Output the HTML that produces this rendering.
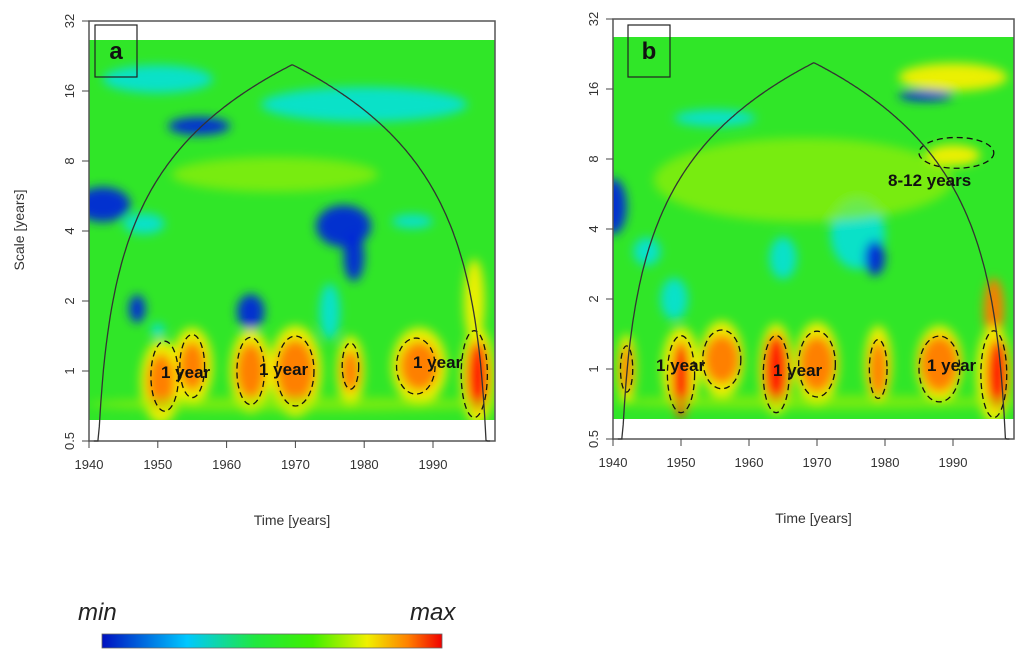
<!DOCTYPE html>
<html><head><meta charset="utf-8"><style>
body{margin:0;background:#fff;width:1024px;height:655px;overflow:hidden}
svg{display:block}
.tk{font-family:"Liberation Sans",sans-serif;font-size:13px;fill:#333}
.lab{font-family:"Liberation Sans",sans-serif;font-size:14px;fill:#333}
.ann{font-family:"Liberation Sans",sans-serif;font-weight:bold;font-size:17px;fill:#111}
</style></head><body>
<svg id="svg" width="1024" height="655" xmlns="http://www.w3.org/2000/svg">
<defs>
<filter id="blur" x="-5%" y="-5%" width="110%" height="110%"><feGaussianBlur stdDeviation="5"/></filter>
<clipPath id="clipA"><rect x="89" y="40" width="406" height="380"/></clipPath>
<clipPath id="clipB"><rect x="613" y="37" width="401" height="382"/></clipPath>
<linearGradient id="jet" x1="0" x2="1">
<stop offset="0" stop-color="#0010c0"/><stop offset="0.25" stop-color="#00c8ff"/><stop offset="0.45" stop-color="#20e840"/><stop offset="0.62" stop-color="#40f000"/><stop offset="0.78" stop-color="#f0f000"/><stop offset="0.9" stop-color="#ff8000"/><stop offset="1" stop-color="#f00000"/>
</linearGradient>
</defs>
</svg>
<script>
// Panel a blobs: year, scale, level(0 blue,1 cyan,2 yellow-green,3 yellow,4 orange,5 red), half-width (years), half-height (octaves)
const aYears  =[1942,1956,1950,1980,1977,1978.5,1987,1948,1947,1963.5,1950,1975,1967,1996,1950.5,1955,1963.5,1970,1978,1988,1996.5,1950.5,1955,1963.5,1970,1978,1988,1996.5,1970];
const aScales =[5.2,11.3,18,14,4.2,3.1,4.4,4.3,1.85,1.8,1.5,1.8,7,2,0.9,1.05,1.0,1.0,1.0,1.05,0.95,0.9,1.05,1.0,1.0,1.0,1.05,0.95,0.72];
const aLevels =[0,0,1,1,0,0,1,1,0,0,1,1,2,3,3,3,3,3,3,3,3,4,4,4,4,4,4,5,2];
const aWid    =[4,4.5,8,15,4,1.5,3,3,1.2,2,1,1.5,15,1.5,3,3,3,3.8,2,4,2.5,2,1.9,2.1,2.8,1.3,2.8,1.6,30];
const aHgt    =[0.25,0.13,0.2,0.25,0.3,0.35,0.1,0.15,0.2,0.25,0.1,0.4,0.25,0.6,0.6,0.55,0.6,0.65,0.5,0.55,0.7,0.4,0.35,0.4,0.45,0.3,0.35,0.5,0.1];
// Panel b blobs
const bYears  =[1940,1955,1986,1976,1978.5,1949,1945,1965,1968,1990,1996,1942,1950,1956,1964,1970,1979,1988,1996,1942,1950,1956,1964,1970,1979,1988,1996.5,1970,1990];
const bScales =[5,12,15,3.8,3,2,3.2,3,6.5,18,1.8,1.0,1.0,1.1,1.0,1.05,1.05,1.05,0.95,1.0,0.9,1.1,1.0,1.05,1.0,1.05,0.95,0.72,8.3];
const bLevels =[0,1,0,1,0,1,1,1,2,3,4,3,3,3,3,3,3,3,3,4,5,4,5,4,4,4,5,2,3];
const bWid    =[2,6,4,4,1.5,2,2,2,22,8,1.5,1.4,2.8,3.2,2.5,3.2,2,3.4,2.6,0.9,1.3,2.6,1.8,2.6,1.3,2.8,1.6,30,4];
const bHgt    =[0.4,0.12,0.08,0.5,0.25,0.3,0.2,0.3,0.6,0.2,0.45,0.5,0.6,0.55,0.65,0.6,0.55,0.55,0.7,0.35,0.55,0.35,0.5,0.4,0.4,0.4,0.5,0.1,0.15];
// Significance contours: year, scale, half-width (years), half-height (octaves)
const aCYears=[1951,1955,1963.5,1970,1978,1987.5,1996];
const aCScales=[0.95,1.05,1.0,1.0,1.05,1.05,0.97];
const aCW=[2.0,1.8,2.0,2.7,1.2,2.8,1.9];
const aCH=[0.5,0.45,0.48,0.5,0.33,0.4,0.62];
const bCYears=[1942,1950,1956,1964,1970,1979,1988,1996,1990.5];
const bCScales=[1.0,0.95,1.1,0.95,1.05,1.0,1.0,0.95,8.5];
const bCW=[0.9,2.0,2.8,1.9,2.7,1.3,3.0,1.9,5.5];
const bCH=[0.33,0.55,0.42,0.55,0.47,0.42,0.47,0.62,0.22];
const xTicks=[1940,1950,1960,1970,1980,1990];
const yTicks=[0.5,1,2,4,8,16,32];
const colors=['#0028d8','#00e0f0','#a8f000','#f4f000','#ff7a00','#ff1800'];
const opac=[0.95,0.8,0.6,0.95,0.95,0.95];

const svg=document.getElementById('svg');
const NS='http://www.w3.org/2000/svg';
function mk(tag,attrs,parent){const e=document.createElementNS(NS,tag);for(const k in attrs)e.setAttribute(k,attrs[k]);(parent||svg).appendChild(e);return e;}

function panel(P){
  const X=t=>P.x0+(t-1940)*P.ppy;
  const Y=s=>P.y1-(Math.log2(s)+1)*70;
  const g=mk('g',{'clip-path':'url(#'+P.clip+')'});
  
  
  mk('rect',{x:P.x0,y:P.hTop,width:P.x1-P.x0,height:P.hBot-P.hTop,fill:'#30e628'},g);
  const bg=mk('g',{filter:'url(#blur)'},g);
  for(let i=0;i<P.years.length;i++){
    const e=mk('ellipse',{cx:X(P.years[i]),cy:Y(P.scales[i]),rx:P.wid[i]*P.ppy,ry:P.hgt[i]*70,fill:colors[P.levels[i]],opacity:opac[P.levels[i]]},bg);
    
    
  }
  const box=mk('rect',{x:P.x0,y:P.y1-6*70,width:P.x1-P.x0,height:6*70,fill:'none',stroke:'#555','stroke-width':1.5});
  
  
  for(let i=0;i<P.cy.length;i++){
    const c=mk('ellipse',{cx:X(P.cy[i]),cy:Y(P.cs[i]),rx:P.cw[i]*P.ppy,ry:P.ch[i]*70,fill:'none',stroke:'#111','stroke-width':1.3,'stroke-dasharray':'6 4'});
    
    
  }
  let d='';
  for(let t=1940.7;t<=1998.4;t+=0.2){
    const s=Math.max(0.5,Math.min(t-1940.7,1998.4-t)*0.72);
    d+=(d?'L':'M')+X(t).toFixed(1)+','+Math.max(Y(s),Y(21)).toFixed(1);
  }
  const coi=mk('path',{d:d,fill:'none',stroke:'#333','stroke-width':1.3});
  
  
  xTicks.forEach(t=>{
    mk('line',{x1:X(t),x2:X(t),y1:P.y1,y2:P.y1+7,stroke:'#444'});
    const tx=mk('text',{x:X(t),y:P.y1+28,'text-anchor':'middle',class:'tk'});tx.textContent=t;
    
    
  });
  yTicks.forEach(s=>{
    mk('line',{x1:P.x0-7,x2:P.x0,y1:Y(s),y2:Y(s),stroke:'#444'});
    const tx=mk('text',{x:0,y:0,'text-anchor':'middle',class:'tk',transform:`translate(${P.x0-15},${Y(s)}) rotate(-90)`});tx.textContent=s;
    
    
  });
  const xt=mk('text',{x:(P.x0+P.x1)/2,y:P.y1+84,'text-anchor':'middle',class:'lab'});xt.textContent='Time [years]';
  
  
  const lb=mk('rect',{x:P.lx,y:P.ly,width:42,height:52,fill:'none',stroke:'#222','stroke-width':1.2});
  
  
  const lt=mk('text',{x:P.lx+21,y:P.ly+34,'text-anchor':'middle',class:'ann'});lt.textContent=P.letter;lt.style.fontSize='24px';
  
  
  P.notes.forEach(n=>{
    const a=mk('text',{x:n[0],y:n[1],class:'ann'});a.textContent=n[2];
    
    
  });
}
panel({id:'panel-a',letter:'a',x0:89,x1:495,ppy:6.88,y1:441,hTop:40,hBot:420,clip:'clipA',years:aYears,scales:aScales,levels:aLevels,wid:aWid,hgt:aHgt,cy:aCYears,cs:aCScales,cw:aCW,ch:aCH,lx:95,ly:25,
  notes:[[161,378,'1 year'],[259,375,'1 year'],[413,368,'1 year']]});
panel({id:'panel-b',letter:'b',x0:613,x1:1014,ppy:6.8,y1:439,hTop:37,hBot:419,clip:'clipB',years:bYears,scales:bScales,levels:bLevels,wid:bWid,hgt:bHgt,cy:bCYears,cs:bCScales,cw:bCW,ch:bCH,lx:628,ly:25,
  notes:[[656,371,'1 year'],[773,376,'1 year'],[927,371,'1 year'],[888,186,'8-12 years']]});
const yt=mk('text',{x:0,y:0,'text-anchor':'middle',class:'lab',transform:'translate(24,230) rotate(-90)'});yt.textContent='Scale [years]';


const cb=mk('rect',{x:102,y:634,width:340,height:14,fill:'url(#jet)',stroke:'#666','stroke-width':0.8});


const mn=mk('text',{x:78,y:620,style:'font-family:"Liberation Sans",sans-serif;font-style:italic;font-size:24px;fill:#222'});mn.textContent='min';


const mx=mk('text',{x:410,y:620,style:'font-family:"Liberation Sans",sans-serif;font-style:italic;font-size:24px;fill:#222'});mx.textContent='max';


</script>
</body></html>
